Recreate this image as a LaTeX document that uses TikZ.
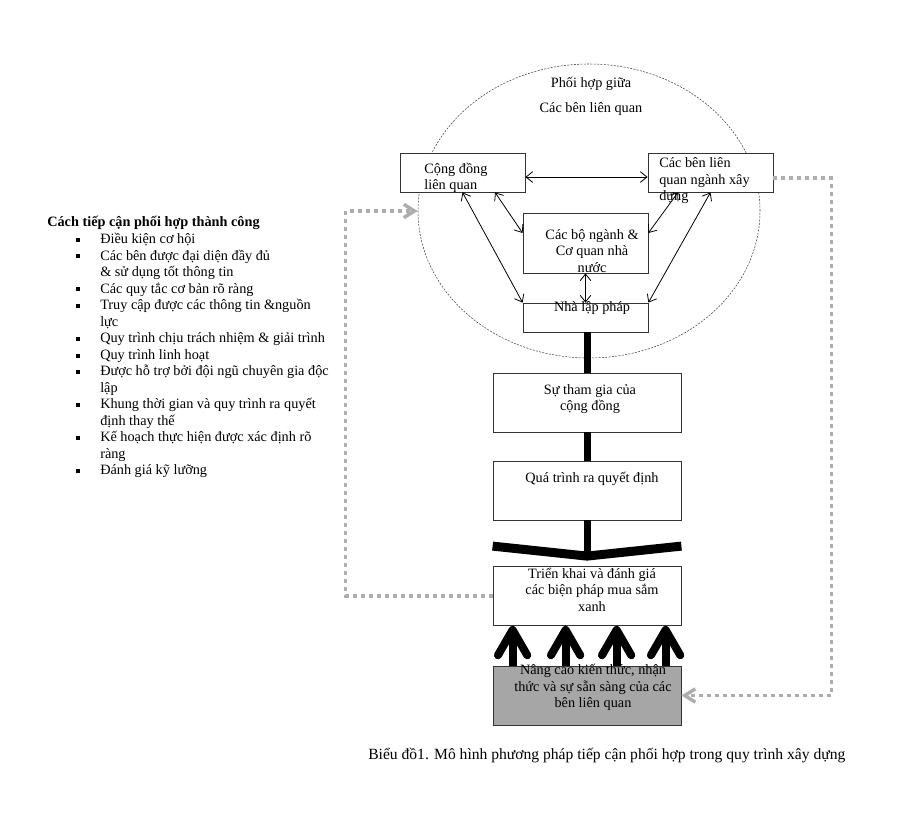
\documentclass[tikz,border=0pt]{standalone}
\usepackage{fontspec}
\setmainfont{Liberation Serif}
\usetikzlibrary{arrows.meta,shapes.geometric}
\newcommand\sqb{\raisebox{1.3pt}{\rule{3pt}{3pt}}}

\begin{document}
\begin{tikzpicture}[x=0.75pt,y=-0.75pt,
	font=\fontsize{10.7}{12.4}\selectfont,
	box/.style={draw=black!80, line width=0.6pt, fill=white, minimum width=93.75pt, inner sep=0pt},
	wide/.style={box, minimum width=141pt, minimum height=44.25pt},
	lbl/.style={align=center, inner sep=0pt},
	link/.style={line width=0.6pt, {Straight Barb[length=5pt,width=8pt]}-{Straight Barb[length=5pt,width=8pt]}},
	bar/.style={line width=5.25pt},
	up/.style={line width=6pt, -{Straight Barb[round,length=19pt,width=22pt]}},
	fb/.style={draw=black!32, line width=2.6pt, dash pattern=on 3pt off 3pt, -{Straight Barb[length=8pt,width=10pt]}}]

	\useasboundingbox (0,0) rectangle (924,816);

	\node[ellipse, draw=black!75, line width=0.4pt, dash pattern=on 1.5pt off 1pt,
		minimum width=256.5pt, minimum height=220.5pt] (coop) at (589,211) {};
	\node[lbl] (coopt) at (591,96.5) {Phối hợp giữa\\[6.3pt]Các bên liên quan};

	\node[box, minimum height=29.25pt,
		label={[lbl, align=left, xshift=-4.9pt, yshift=-4.1pt]center:Cộng đồng\\liên quan}] (cd) at (462.5,172.5) {};
	\node[box, minimum height=29.25pt,
		label={[lbl, align=left, xshift=-4.5pt, yshift=-6.2pt]center:Các bên liên\\quan ngành xây\\dựng}] (cb) at (710.5,172.5) {};
	\node[box, minimum height=45pt,
		label={[lbl, xshift=4.9pt, yshift=-6pt]center:Các bộ ngành \&\\Cơ quan nhà\\nước}] (bo) at (585.5,243) {};
	\node[box, minimum height=21.75pt,
		label={[lbl, xshift=4.9pt, yshift=7.1pt]center:Nhà lập pháp}] (nlp) at (585.5,317.5) {};

	\node[wide, label={[lbl, xshift=2.25pt, yshift=2.6pt]center:Sự tham gia của\\cộng đồng}] (stg) at (587,402.5) {};
	\node[wide, label={[lbl, xshift=3.75pt, yshift=8.6pt]center:Quá trình ra quyết định}] (qtr) at (587,490.5) {};
	\node[wide, label={[lbl, xshift=3.75pt, yshift=4.9pt]center:Triển khai và đánh giá\\các biện pháp mua sắm\\xanh}] (tk) at (587,596) {};
	\node[wide, fill=black!35, label={[lbl, xshift=4.5pt, yshift=6pt]center:Nâng cao kiến thức, nhận\\thức và sự sẵn sàng của các\\bên liên quan}] (nc) at (587,695.5) {};

	\draw[link] ([yshift=-3.4pt]cd.east) -- ([yshift=-3.4pt]cb.west);
	\draw[link] (cd.south) -- (nlp.north west);
	\draw[link] ([xshift=24.4pt]cd.south) -- ([yshift=7.5pt]bo.west);
	\draw[link] ([xshift=-24.4pt]cb.south) -- ([yshift=7.5pt]bo.east);
	\draw[link] (cb.south) -- (nlp.north east);
	\draw[link] (bo.south) -- (nlp.north);

	\draw[bar] (nlp.south -| stg.north) -- (stg.north);
	\draw[bar] (stg.south) -- (qtr.north);
	\coordinate (vtip) at ([yshift=7.5pt]tk.north);
	\draw[bar] (qtr.south) -- (vtip);
	\draw[line width=6.75pt] ([yshift=15pt]tk.north west) -- (vtip) -- ([yshift=15pt]tk.north east);

	\foreach \dx in {15,54.75,93,129.75}
		\draw[up] ([xshift=\dx pt]nc.north west) -- ([xshift=\dx pt]tk.south west);

	\draw[fb] (tk.west) -- ([xshift=-110.25pt]tk.west) |- (coop.west);
	\draw[fb] ([yshift=-4pt]cb.east) -- ([xshift=43.5pt,yshift=-4pt]cb.east) |- (nc.east);

	\node[anchor=base west, inner sep=0pt] (list) at (47,227) {%
		\begin{tabular}[t]{@{\hspace{21.75pt}}l@{\hspace{15pt}}l@{}}
			\multicolumn{2}{@{}l@{}}{\bfseries Cách tiếp cận phối hợp thành công}\\
			\sqb & Điều kiện cơ hội\\
			\sqb & Các bên được đại diện đầy đủ\\
			     & \& sử dụng tốt thông tin\\
			\sqb & Các quy tắc cơ bản rõ ràng\\
			\sqb & Truy cập được các thông tin \&nguồn\\
			     & lực\\
			\sqb & Quy trình chịu trách nhiệm \& giải trình\\
			\sqb & Quy trình linh hoạt\\
			\sqb & Được hỗ trợ bởi đội ngũ chuyên gia độc\\
			     & lập\\
			\sqb & Khung thời gian và quy trình ra quyết\\
			     & định thay thế\\
			\sqb & Kế hoạch thực hiện được xác định rõ\\
			     & ràng\\
			\sqb & Đánh giá kỹ lưỡng
		\end{tabular}};

	\node[anchor=base west, inner sep=0pt, font=\fontsize{11.7}{13}\selectfont] (cap) at (368,759)
		{Biểu đồ1. Mô hình phương pháp tiếp cận phối hợp trong quy trình xây dựng};
\end{tikzpicture}
\end{document}
